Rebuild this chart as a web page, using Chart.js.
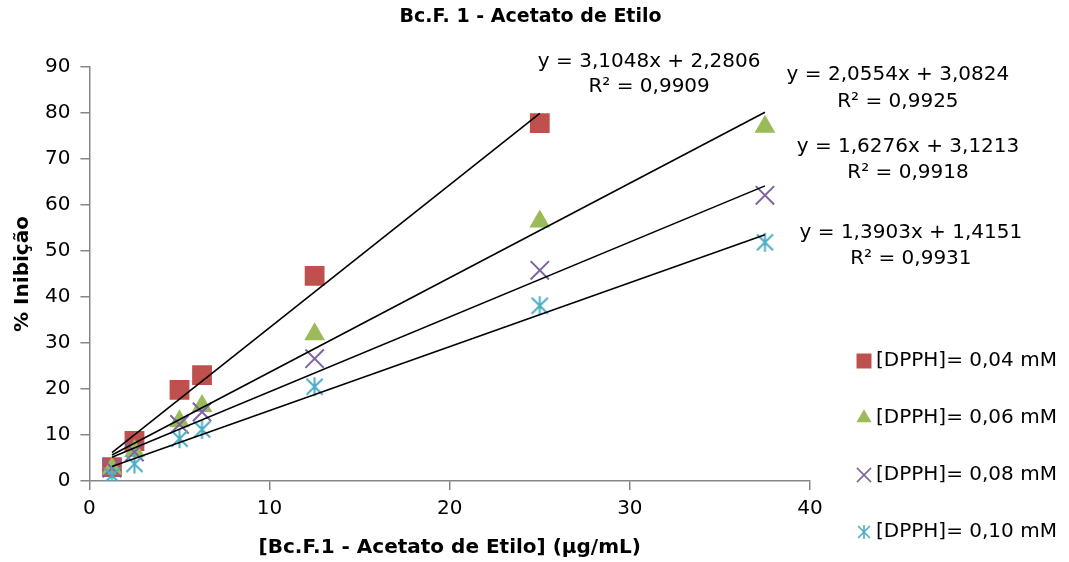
<!DOCTYPE html>
<html>
<head>
<meta charset="utf-8">
<script src="https://cdn.jsdelivr.net/npm/chart.js@4.4.0/dist/chart.umd.min.js"></script>
<style>
  html, body { margin: 0; padding: 0; background: #fff; }
  #wrap { width: 1069px; height: 562px; }
</style>
</head>
<body>
<div id="wrap"><canvas id="chart"></canvas></div>
<script>
// concentrações (µg/mL) e % de inibição
const concentrations = [1.25, 2.5, 5, 6.25, 12.5, 25, 37.5];
const seriesLabels = ['[DPPH]= 0,04 mM', '[DPPH]= 0,06 mM', '[DPPH]= 0,08 mM', '[DPPH]= 0,10 mM'];
const inhib004 = [3.0, 8.7, 19.8, 23.0, 44.6, 77.8];
const inhib006 = [2.7, 6.5, 13.0, 16.3, 31.9, 56.4, 77.0];
const inhib008 = [2.8, 6.3, 12.3, 15.0, 26.6, 45.8, 62.1];
const inhib010 = [1.2, 3.7, 9.2, 11.2, 20.5, 38.1, 51.9];

// linhas de tendência (equações mostradas no gráfico)
const slopes = [3.1048, 2.0554, 1.6276, 1.3903];
const intercepts = [2.2806, 3.0824, 3.1213, 1.4151];
const eqTexts = ['y = 3,1048x + 2,2806', 'y = 2,0554x + 3,0824', 'y = 1,6276x + 3,1213', 'y = 1,3903x + 1,4151'];
const r2Texts = ['R² = 0,9909', 'R² = 0,9925', 'R² = 0,9918', 'R² = 0,9931'];
const eqAnchorX = [31.07, 44.88, 45.44, 45.6];
const eqAnchorY = [91.1, 88.25, 72.6, 54.0];
const r2AnchorY = [85.6, 82.4, 66.9, 48.4];

const chartTitle = 'Bc.F. 1 - Acetato de Etilo';
const FONT = "'DejaVu Sans', sans-serif";
const colors = ['#C0504D', '#9BBB59', '#8064A2', '#4BACC6'];
const allSeries = [inhib004, inhib006, inhib008, inhib010];

function asterisk(size, color, lw) {
    const c = document.createElement('canvas');
    c.width = size;
    c.height = size;
    const g = c.getContext('2d');
    g.strokeStyle = color;
    g.lineWidth = lw;
    const m = size / 2, r = size / 2 - 1, d = r * 0.85;
    g.beginPath();
    g.moveTo(m, m - r); g.lineTo(m, m + r);
    g.moveTo(m - d, m - d); g.lineTo(m + d, m + d);
    g.moveTo(m - d, m + d); g.lineTo(m + d, m - d);
    g.stroke();
    return c;
}
const starBig = asterisk(21, colors[3], 2);
const starSmall = asterisk(16, colors[3], 1.6);

const pointStyles = ['rect', 'triangle', 'crossRot', starBig];
const pointSizes = [14, 12, 13, 10];
const legendStyles = ['rect', 'triangle', 'crossRot', starSmall];
const legendSizes = [10.6, 8.7, 10, 8];

const datasets = allSeries.map((vals, i) => ({
    label: seriesLabels[i],
    data: vals.map((v, j) => ({ x: concentrations[j], y: v })),
    pointStyle: pointStyles[i],
    pointRadius: pointSizes[i],
    pointHoverRadius: pointSizes[i],
    backgroundColor: colors[i],
    borderColor: colors[i],
    borderWidth: i === 2 ? 2 : 0,
    showLine: false,
    order: 4 - i + 1
}));

slopes.forEach((m, i) => {
    const xs = [concentrations[0], concentrations[allSeries[i].length - 1]];
    datasets.push({
        label: 'trend' + i,
        data: xs.map(x => ({ x: x, y: m * x + intercepts[i] })),
        showLine: true,
        pointRadius: 0,
        borderColor: '#000',
        borderWidth: 1.6,
        order: 0
    });
});

const equationLabels = {
    id: 'equationLabels',
    afterDatasetsDraw(chart) {
        const { ctx, scales } = chart;
        ctx.save();
        ctx.font = '20px ' + FONT;
        ctx.fillStyle = '#000';
        ctx.textAlign = 'center';
        ctx.textBaseline = 'middle';
        eqTexts.forEach((t, i) => {
            const x = scales.x.getPixelForValue(eqAnchorX[i]);
            ctx.fillText(t, x, scales.y.getPixelForValue(eqAnchorY[i]));
            ctx.fillText(r2Texts[i], x, scales.y.getPixelForValue(r2AnchorY[i]));
        });
        ctx.restore();
    }
};

// título centrado na tela toda e legenda à direita, desenhados à mão
const sideDecor = {
    id: 'sideDecor',
    afterDraw(chart) {
        const { ctx, chartArea, width } = chart;
        ctx.save();
        ctx.fillStyle = '#000';
        ctx.textBaseline = 'middle';
        ctx.textAlign = 'center';
        ctx.font = 'bold 19px ' + FONT;
        ctx.fillText(chartTitle, width / 2 - 4, 17);

        const mx = chartArea.right + 54;
        ctx.font = '20px ' + FONT;
        ctx.textAlign = 'left';
        seriesLabels.forEach((lab, i) => {
            const y = chartArea.bottom - 120 + i * 57;
            ctx.fillStyle = colors[i];
            ctx.strokeStyle = colors[i];
            ctx.lineWidth = 1.6;
            Chart.helpers.drawPoint(ctx, {
                pointStyle: legendStyles[i],
                radius: legendSizes[i],
                rotation: 0,
                borderWidth: i === 2 ? 1.6 : 0
            }, mx, y);
            ctx.fillStyle = '#000';
            ctx.fillText(lab, mx + 12, y);
        });
        ctx.restore();
    }
};

const axisGrid = {
    drawOnChartArea: false,
    drawTicks: true,
    tickLength: 9,
    color: '#868686',
    lineWidth: 1.5
};

new Chart(document.getElementById('chart'), {
    type: 'scatter',
    data: { datasets: datasets },
    options: {
        responsive: true,
        maintainAspectRatio: false,
        animation: false,
        layout: { padding: { left: 7, right: 259, bottom: 2, top: 67 } },
        plugins: {
            title: { display: false },
            legend: { display: false },
            tooltip: { enabled: false }
        },
        scales: {
            x: {
                type: 'linear',
                min: 0,
                max: 40,
                ticks: { stepSize: 10, color: '#000', font: { family: FONT, size: 20 }, padding: 7 },
                grid: axisGrid,
                border: { color: '#868686', width: 1.5 },
                title: {
                    display: true,
                    text: '[Bc.F.1 - Acetato de Etilo] (µg/mL)',
                    color: '#000',
                    font: { family: FONT, size: 20, weight: 'bold' },
                    padding: { top: 8, bottom: 0 }
                }
            },
            y: {
                type: 'linear',
                min: 0,
                max: 90,
                ticks: { stepSize: 10, color: '#000', font: { family: FONT, size: 20 }, padding: 10 },
                grid: axisGrid,
                border: { color: '#868686', width: 1.5 },
                title: {
                    display: true,
                    text: '% Inibição',
                    color: '#000',
                    font: { family: FONT, size: 20, weight: 'bold' },
                    padding: { top: 4, bottom: 0 }
                }
            }
        }
    },
    plugins: [equationLabels, sideDecor]
});
</script>
</body>
</html>
